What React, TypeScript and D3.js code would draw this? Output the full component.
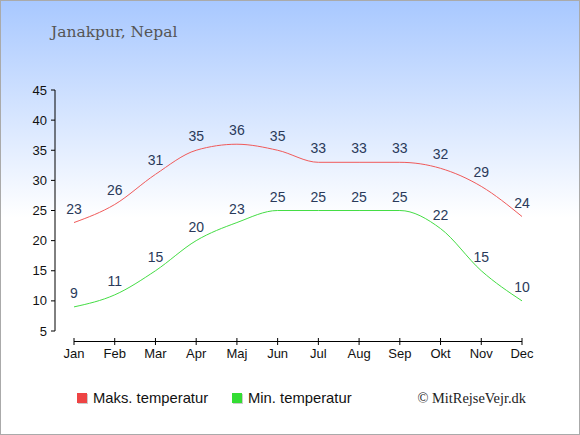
import React from "react";
import * as d3 from "d3";

const months = ["Jan", "Feb", "Mar", "Apr", "Maj", "Jun", "Jul", "Aug", "Sep", "Okt", "Nov", "Dec"];
const maxTemps = [23, 26, 31, 35, 36, 35, 33, 33, 33, 32, 29, 24];
const minTemps = [9, 11, 15, 20, 23, 25, 25, 25, 25, 22, 15, 10];
const yTicks = [5, 10, 15, 20, 25, 30, 35, 40, 45];

const W = 580;
const H = 435;

export default function App() {
    const x = d3.scalePoint<string>().domain(months).range([74, 522]);
    const y = d3.scaleLinear().domain([5, 45]).range([331, 90]);
    const line = d3.line<number>()
        .x((d, i) => x(months[i]) as number)
        .y(d => y(d))
        .curve(d3.curveMonotoneX);

    const series = [
        { name: "Maks. temperatur", values: maxTemps, color: "#f05a5a", legend: "#ee4444" },
        { name: "Min. temperatur", values: minTemps, color: "#44dd44", legend: "#33dd33" },
    ];

    return (
        <div style={{ position: "absolute", left: 0, top: 0 }}>
            <svg width={W} height={H} style={{ display: "block" }}>
                <defs>
                    <linearGradient id="bg" x1="0" y1="0" x2="0" y2="1">
                        <stop offset="0" stopColor="#a8c8ff" />
                        <stop offset="0.5" stopColor="#ffffff" />
                        <stop offset="1" stopColor="#ffffff" />
                    </linearGradient>
                </defs>
                <rect x={0.5} y={0.5} width={W - 1} height={H - 1} fill="url(#bg)" stroke="#aaaaaa" />
                <text x={51} y={37} fontFamily="'DejaVu Serif', serif" fontSize={15.5} fill="#555555">Janakpur, Nepal</text>

                {/* y axis */}
                <line x1={55} x2={55} y1={y(45)} y2={y(5)} stroke="#000" />
                {yTicks.map(t => (
                    <g key={t}>
                        <line x1={51} x2={55} y1={y(t)} y2={y(t)} stroke="#000" />
                        <text x={47} y={y(t) + 4.5} textAnchor="end" fontFamily="'Liberation Sans', Arial, sans-serif" fontSize={13} fill="#111">{t}</text>
                    </g>
                ))}

                {/* x axis */}
                <line x1={x("Jan")} x2={x("Dec")} y1={341.5} y2={341.5} stroke="#000" />
                {months.map(m => (
                    <g key={m}>
                        <line x1={x(m)} x2={x(m)} y1={338} y2={345} stroke="#000" />
                        <text x={x(m)} y={358} textAnchor="middle" fontFamily="'Liberation Sans', Arial, sans-serif" fontSize={13} fill="#111">{m}</text>
                    </g>
                ))}

                {series.map(s => (
                    <g key={s.name}>
                        <path d={line(s.values) || ""} fill="none" stroke={s.color} strokeWidth={1} />
                        {s.values.map((v, i) => (
                            <text key={i} x={x(months[i])} y={y(v) - 9} textAnchor="middle" fontFamily="'Liberation Sans', Arial, sans-serif" fontSize={14} fill="#2a3a5a">{v}</text>
                        ))}
                    </g>
                ))}

                {/* legend */}
                {series.map((s, i) => (
                    <g key={s.name} transform={`translate(${i === 0 ? 77 : 232},393)`}>
                        <rect x={1} y={1} width={10} height={10} fill="#cccccc" />
                        <rect x={0} y={0} width={10} height={10} fill={s.legend} />
                        <text x={16} y={10} fontFamily="'Liberation Sans', Arial, sans-serif" fontSize={14.8} fill="#111">{s.name}</text>
                    </g>
                ))}
                <text x={526} y={403} textAnchor="end" fontFamily="'Liberation Serif', serif" fontSize={14.4} fill="#222">© MitRejseVejr.dk</text>
            </svg>
        </div>
    );
}
